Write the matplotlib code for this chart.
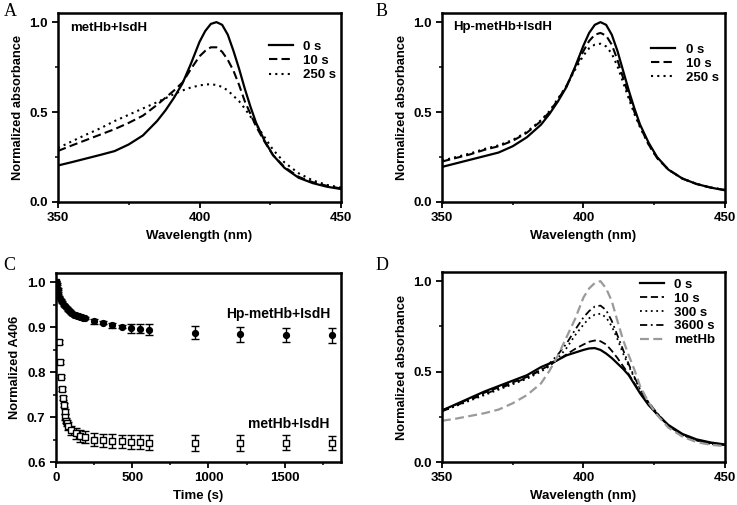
import numpy as np
import matplotlib
matplotlib.use("Agg")
import matplotlib.pyplot as plt
from matplotlib.ticker import MultipleLocator

plt.rcParams['font.family'] = ['Liberation Sans', 'DejaVu Sans']
plt.rcParams['font.weight'] = 'bold'
plt.rcParams['axes.labelweight'] = 'bold'
plt.rcParams['font.size'] = 9.5

### data
wl = [350, 355, 360, 365, 370, 375, 380, 385, 388, 391, 394, 397, 400, 402, 404,
      406, 408, 410, 412, 414, 416, 418, 420, 423, 426, 430, 435, 440, 445, 450]

# A: metHb+IsdH
a_0s = [.203, .222, .242, .262, .283, .32, .37, .45, .51, .58, .66, .77, .89, .95, .99,
        1.0, .985, .93, .84, .74, .63, .53, .44, .34, .26, .19, .135, .105, .085, .072]
a_10s = [.284, .315, .345, .375, .405, .44, .48, .54, .58, .62, .665, .74, .81, .84, .86,
         .86, .835, .79, .73, .65, .56, .49, .42, .335, .26, .195, .14, .11, .09, .075]
a_250s = [.30, .338, .375, .41, .45, .485, .52, .555, .577, .60, .62, .637, .648, .653, .655,
          .65, .64, .62, .59, .56, .52, .475, .43, .36, .29, .22, .16, .12, .095, .08]

# B: Hp-metHb+IsdH
b_0s = [.195, .215, .235, .255, .275, .31, .36, .43, .49, .56, .64, .75, .87, .94, .985,
        1.0, .985, .93, .84, .73, .62, .52, .43, .33, .25, .18, .13, .10, .08, .065]
b_10s = [.225, .245, .265, .29, .31, .34, .385, .45, .50, .57, .645, .745, .84, .895, .93,
         .94, .925, .875, .79, .69, .59, .50, .42, .32, .245, .18, .13, .10, .08, .067]
b_250s = [.23, .25, .27, .295, .315, .345, .39, .455, .505, .575, .645, .735, .815, .855, .875,
          .88, .865, .825, .755, .665, .575, .49, .415, .32, .245, .18, .13, .10, .08, .067]

# C: normalized A406 vs time
t_hp = [0, 5, 10, 15, 20, 30, 40, 50, 60, 70, 80, 90, 100, 110, 120, 130, 140, 150, 160,
        170, 180, 190, 250, 310, 370, 430, 490, 550, 610, 910, 1210, 1510, 1810]
y_hp = [1.0, .995, .985, .975, .968, .961, .955, .95, .946, .942, .938, .935, .932, .93,
        .928, .927, .925, .924, .923, .922, .921, .92, .913, .91, .904, .901, .897, .896,
        .894, .888, .884, .883, .882]
e_hp = [.002, .002, .002, .002, .002, .002, .002, .002, .002, .002, .002, .002, .002, .002,
        .002, .002, .002, .002, .002, .002, .002, .002, .005, .003, .005, .004, .01, .01,
        .012, .014, .017, .016, .017]
t_met = [0, 20, 26, 32, 38, 44, 50, 56, 62, 68, 74, 80, 100, 130, 160, 190, 250, 310, 370,
         430, 490, 550, 610, 910, 1210, 1510, 1810]
y_met = [1.0, .867, .823, .79, .762, .742, .727, .712, .70, .692, .686, .68, .671, .664,
         .658, .655, .65, .648, .647, .646, .645, .644, .643, .642, .642, .643, .642]
e_met = [.002, .004, .004, .004, .004, .004, .005, .005, .006, .006, .007, .008, .01, .012,
         .013, .013, .015, .015, .015, .015, .016, .016, .016, .018, .017, .017, .016]

# D: spectra after mixing + metHb reference
d_0s = [.285, .32, .355, .39, .42, .45, .48, .525, .545, .565, .59, .605, .62, .628, .63,
        .62, .60, .575, .545, .515, .48, .43, .38, .315, .265, .205, .155, .125, .108, .097]
d_10s = [.285, .318, .35, .383, .412, .44, .47, .51, .535, .565, .595, .625, .65, .665, .672,
         .668, .65, .615, .575, .53, .485, .435, .385, .32, .265, .2, .15, .12, .105, .095]
d_300s = [.28, .31, .34, .37, .40, .43, .46, .50, .53, .575, .63, .70, .76, .795, .815,
          .82, .80, .75, .68, .60, .53, .465, .40, .33, .27, .2, .15, .12, .10, .094]
d_3600s = [.28, .312, .345, .375, .405, .435, .465, .51, .545, .595, .655, .73, .80, .835, .86,
           .865, .84, .78, .70, .62, .54, .47, .405, .33, .27, .2, .15, .12, .10, .094]
d_methb = [.228, .24, .255, .27, .29, .325, .37, .435, .505, .59, .69, .79, .91, .96, .99,
           1.0, .96, .89, .78, .675, .59, .51, .42, .33, .26, .19, .14, .11, .095, .088]

### plots
fig = plt.figure(figsize=(7.37, 5.05), dpi=100)
dot = (0, (1, 2))
dash = (0, (4, 2))
leg_font = {'weight': 'bold', 'size': 9.5}


def style(ax):
    for sp in ax.spines.values():
        sp.set_linewidth(1.8)
    ax.tick_params(which='major', direction='out', length=4, width=1.3, labelsize=9.5)
    ax.tick_params(which='minor', direction='out', length=2.5, width=1.1)


def spectrum_axes(ax):
    ax.set_xlim(350, 450)
    ax.set_ylim(0, 1.05)
    ax.set_xticks([350, 400, 450])
    ax.set_yticks([0.0, 0.5, 1.0])
    ax.set_yticklabels(['0.0', '0.5', '1.0'])
    ax.xaxis.set_minor_locator(MultipleLocator(25))
    ax.yaxis.set_minor_locator(MultipleLocator(0.25))
    ax.set_xlabel("Wavelength (nm)", fontsize=9.5)
    ax.set_ylabel("Normalized absorbance", fontsize=9.3)
    style(ax)


# plot A
ax = fig.add_axes([0.0787, 0.6, 0.384, 0.374])
ax.plot(wl, a_0s, color='k', lw=1.6, label='0 s')
ax.plot(wl, a_10s, color='k', lw=1.5, ls=dash, label='10 s')
ax.plot(wl, a_250s, color='k', lw=1.5, ls=dot, label='250 s')
spectrum_axes(ax)
ax.text(0.042, 0.92, "metHb+IsdH", transform=ax.transAxes, va='center', fontsize=9.5)
ax.legend(frameon=False, loc='upper left', bbox_to_anchor=(0.745, 0.855), borderpad=0,
          borderaxespad=0, handlelength=1.8, handletextpad=0.8, labelspacing=0.15,
          prop=leg_font)

# plot B
ax = fig.add_axes([0.5997, 0.6, 0.3840, 0.374])
ax.plot(wl, b_0s, color='k', lw=1.6, label='0 s')
ax.plot(wl, b_10s, color='k', lw=1.5, ls=dash, label='10 s')
ax.plot(wl, b_250s, color='k', lw=1.5, ls=dot, label='250 s')
spectrum_axes(ax)
ax.text(0.039, 0.925, "Hp-metHb+IsdH", transform=ax.transAxes, va='center', fontsize=9.5)
ax.legend(frameon=False, loc='upper left', bbox_to_anchor=(0.74, 0.84), borderpad=0,
          borderaxespad=0, handlelength=1.8, handletextpad=0.8, labelspacing=0.15,
          prop=leg_font)

# plot C
ax = fig.add_axes([0.0760, 0.0851, 0.3867, 0.374])
ax.errorbar(t_met, y_met, yerr=e_met, fmt='s', ms=4.2, mfc='white', mec='k', mew=1.0,
            ecolor='k', elinewidth=1.0, capsize=3, capthick=1.0)
ax.errorbar(t_hp, y_hp, yerr=e_hp, fmt='o', ms=4.2, mfc='k', mec='k', mew=1.0,
            ecolor='k', elinewidth=1.0, capsize=3, capthick=1.0)
ax.set_xlim(0, 1870)
ax.set_ylim(0.6, 1.02)
ax.set_xticks([0, 500, 1000, 1500])
ax.set_yticks([0.6, 0.7, 0.8, 0.9, 1.0])
ax.xaxis.set_minor_locator(MultipleLocator(250))
ax.yaxis.set_minor_locator(MultipleLocator(0.05))
ax.set_xlabel("Time (s)", fontsize=9.5)
ax.set_ylabel("Normalized A406", fontsize=9.3)
style(ax)
ax.text(1800, 0.929, "Hp-metHb+IsdH", ha='right', va='center', fontsize=10)
ax.text(1795, 0.684, "metHb+IsdH", ha='right', va='center', fontsize=10)

# plot D
ax = fig.add_axes([0.5997, 0.0851, 0.3840, 0.376])
ax.plot(wl, d_0s, color='k', lw=1.6, label='0 s')
ax.plot(wl, d_10s, color='k', lw=1.3, ls=dash, label='10 s')
ax.plot(wl, d_300s, color='k', lw=1.3, ls=dot, label='300 s')
ax.plot(wl, d_3600s, color='k', lw=1.3, ls=(0, (4, 2, 1, 2)), label='3600 s')
ax.plot(wl, d_methb, color='#9a9a9a', lw=1.6, ls=dash, label='metHb')
spectrum_axes(ax)
ax.legend(frameon=False, loc='upper left', bbox_to_anchor=(0.70, 0.965), borderpad=0,
          borderaxespad=0, handlelength=1.8, handletextpad=0.8, labelspacing=0.12,
          prop=leg_font)

# panel letters
for x, y, s in [(0.005, 0.977, 'A'), (0.51, 0.977, 'B'), (0.005, 0.475, 'C'), (0.51, 0.475, 'D')]:
    fig.text(x, y, s, family=['Liberation Serif', 'DejaVu Serif'], fontweight='normal',
             fontsize=13, va='center')

plt.savefig("out.png", dpi=100)
